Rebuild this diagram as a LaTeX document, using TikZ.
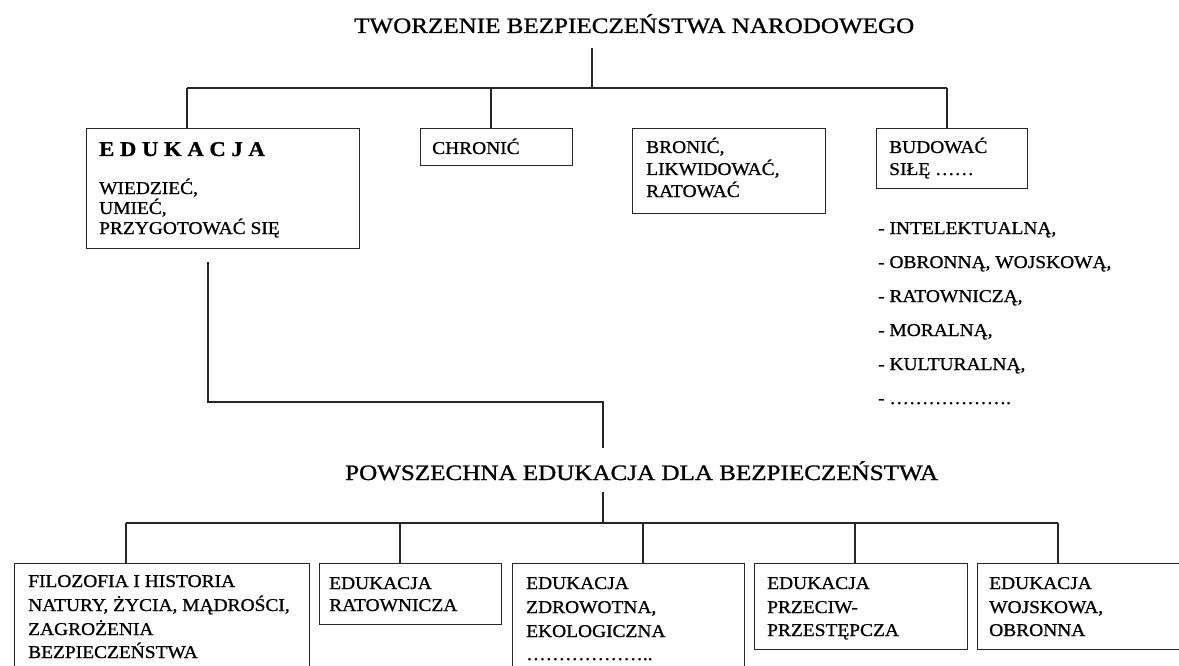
\documentclass[tikz,border=0pt]{standalone}
\usepackage{fontspec}
\setmainfont{Liberation Serif}[FakeStretch=1.08,FakeBold=0.9]
\newfontfamily\titlefont{Liberation Serif}[FakeStretch=1.14,FakeBold=1.0]
\newcommand\bodyfs{\fontsize{18}{20}\selectfont}
\newcommand\headfs{\titlefont\fontsize{22}{26}\selectfont}
\begin{document}
\begin{tikzpicture}[x=1pt,y=-1pt,
  conn/.style={draw=black!85,line width=1.2pt},
  box/.style={draw=black!85,line width=1.2pt,rectangle,inner sep=0pt,anchor=north west},
  txt/.style={inner sep=0pt,anchor=base west,font=\bodyfs},
  ttl/.style={inner sep=0pt,anchor=base west,font=\headfs}]
\useasboundingbox (0,0) rectangle (1179,666);
\clip (0,0) rectangle (1179,666);

% ---------- upper level ----------
\node[ttl] (top) at (354,33) {TWORZENIE BEZPIECZEŃSTWA NARODOWEGO};

\node[box,minimum width=273pt,minimum height=120pt] (edu) at (86,128) {};
\node[box,minimum width=152pt,minimum height=37pt] (chr) at (420,128) {};
\node[box,minimum width=193pt,minimum height=85pt] (bro) at (632,128) {};
\node[box,minimum width=151pt,minimum height=60pt] (bud) at (876,128) {};

\node[inner sep=0pt,anchor=base west,font=\fontsize{21}{24}\selectfont\bfseries] (eduh) at (99,156) {E D U K A C J A};
\node[txt] (edu1) at (99,194) {WIEDZIEĆ,};
\node[txt] (edu2) at (99,214) {UMIEĆ,};
\node[txt] (edu3) at (99,234) {PRZYGOTOWAĆ SIĘ};

\node[txt] (chr1) at (432,154) {CHRONIĆ};

\node[txt] (bro1) at (646,153) {BRONIĆ,};
\node[txt] (bro2) at (646,175) {LIKWIDOWAĆ,};
\node[txt] (bro3) at (646,197) {RATOWAĆ};

\node[txt] (bud1) at (889,153) {BUDOWAĆ};
\node[txt] (bud2) at (889,175) {SIŁĘ ……};

\node[txt] (s1) at (878,234) {- INTELEKTUALNĄ,};
\node[txt] (s2) at (878,268) {- OBRONNĄ, WOJSKOWĄ,};
\node[txt] (s3) at (878,302) {- RATOWNICZĄ,};
\node[txt] (s4) at (878,336) {- MORALNĄ,};
\node[txt] (s5) at (878,370) {- KULTURALNĄ,};
\node[txt] (s6) at (878,404) {- ……………….};

\coordinate (a1) at (592,48);
\coordinate (b1) at (187,88);
\coordinate (b2) at (491,88);
\coordinate (b3) at (947,88);
\draw[conn] (a1) -- (a1 |- b1);
\draw[conn] (b1) -- (b3);
\draw[conn] (b1) -- (b1 |- edu.north);
\draw[conn] (b2) -- (b2 |- chr.north);
\draw[conn] (b3) -- (b3 |- bud.north);

% ---------- link to the lower level ----------
\coordinate (e1) at (208,262);
\coordinate (e2) at (603,402);
\coordinate (e3) at (603,448);
\draw[conn] (e1) |- (e2) -- (e3);

% ---------- lower level ----------
\node[ttl] (pow) at (345,480) {POWSZECHNA EDUKACJA DLA BEZPIECZEŃSTWA};

\node[box,minimum width=295pt,minimum height=130pt] (fil) at (14,563) {};
\node[box,minimum width=182pt,minimum height=61pt] (rat) at (319,563) {};
\node[box,minimum width=232pt,minimum height=130pt] (zdr) at (512,563) {};
\node[box,minimum width=213pt,minimum height=86pt] (prz) at (754,563) {};
\node[box,minimum width=240pt,minimum height=86pt] (woj) at (977,563) {};

\node[txt] (fil1) at (28,587) {FILOZOFIA I HISTORIA};
\node[txt] (fil2) at (28,611) {NATURY, ŻYCIA, MĄDROŚCI,};
\node[txt] (fil3) at (28,635) {ZAGROŻENIA};
\node[txt] (fil4) at (28,658) {BEZPIECZEŃSTWA};

\node[txt] (rat1) at (329,589) {EDUKACJA};
\node[txt] (rat2) at (329,611) {RATOWNICZA};

\node[txt] (zdr1) at (526,589) {EDUKACJA};
\node[txt] (zdr2) at (526,613) {ZDROWOTNA,};
\node[txt] (zdr3) at (526,637) {EKOLOGICZNA};
\node[txt] (zdr4) at (526,660) {………………..};

\node[txt] (prz1) at (767,589) {EDUKACJA};
\node[txt] (prz2) at (767,613) {PRZECIW-};
\node[txt] (prz3) at (767,636) {PRZESTĘPCZA};

\node[txt] (woj1) at (989,589) {EDUKACJA};
\node[txt] (woj2) at (989,613) {WOJSKOWA,};
\node[txt] (woj3) at (989,636) {OBRONNA};

\coordinate (c1) at (603,492);
\coordinate (k1) at (126,523);
\coordinate (k2) at (400,523);
\coordinate (k3) at (643,523);
\coordinate (k4) at (855,523);
\coordinate (k5) at (1058,523);
\draw[conn] (c1) -- (c1 |- k1);
\draw[conn] (k1) -- (k5);
\draw[conn] (k1) -- (k1 |- fil.north);
\draw[conn] (k2) -- (k2 |- rat.north);
\draw[conn] (k3) -- (k3 |- zdr.north);
\draw[conn] (k4) -- (k4 |- prz.north);
\draw[conn] (k5) -- (k5 |- woj.north);
\end{tikzpicture}
\end{document}
